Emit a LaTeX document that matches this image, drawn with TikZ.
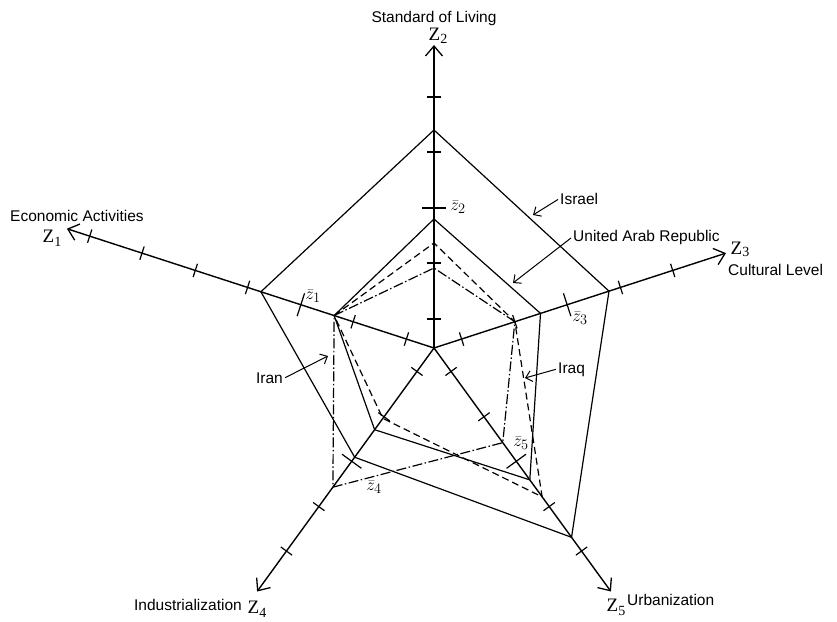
\documentclass[tikz,border=0pt]{standalone}
\usepackage{fontspec}
\setmainfont{Liberation Sans}
\newfontfamily\zfont{Liberation Serif}
\usetikzlibrary{arrows.meta,calc}

\begin{document}
\begin{tikzpicture}[x=1pt,y=1pt,
  axisline/.style={line width=1.4pt,-{Straight Barb[length=10pt,width=17pt,line width=1.3pt]}},
  tickmark/.style={line width=1.2pt},
  israelline/.style={line width=1.2pt,line join=miter},
  uarline/.style={line width=1.2pt,line join=miter},
  iraqline/.style={line width=1.2pt,dash pattern=on 7pt off 4pt},
  iranline/.style={line width=1.2pt,dash pattern=on 10pt off 2.5pt on 1.5pt off 2.5pt},
  pointer/.style={line width=1pt,-{Straight Barb[length=6pt,width=11pt,line width=1pt]}},
  caption/.style={font=\fontsize{15.5}{15.5}\selectfont,inner sep=0pt},
  axisname/.style={font=\zfont\fontsize{19}{19}\selectfont,inner sep=0pt},
  meanlabel/.style={font=\fontsize{19}{19}\selectfont,inner sep=0pt}
]
\useasboundingbox (-434,-273) rectangle (403,348);
\coordinate (O) at (0,0);

% axis end points
\coordinate (T1) at (162:386);
\coordinate (T2) at (90:303);
\coordinate (T3) at (18:307);
\coordinate (T4) at (234:301);
\coordinate (T5) at (306:301);

\foreach \n in {1,...,5} \draw[axisline] (O) -- (T\n);

% scale marks; the long one marks the mean
\foreach \a in {162,90,18,234,306} {
  \foreach \d in {29,85,196,251} \draw[tickmark,rotate=\a] (\d,-7) -- (\d,7);
  \draw[tickmark,rotate=\a] (140,-12) -- (140,12);
}
\foreach \d in {307,362} \draw[tickmark,rotate=162] (\d,-7) -- (\d,7);

% country profiles
\coordinate (I1) at (162:182);
\coordinate (I2) at (90:218);
\coordinate (I3) at (18:184);
\coordinate (I4) at (234:135);
\coordinate (I5) at (306:234);
\draw[israelline] (I1) -- (I2) -- (I3) -- (I5) -- (I4) -- cycle;

\coordinate (U1) at (162:105);
\coordinate (U2) at (90:129);
\coordinate (U3) at (18:112);
\coordinate (U4) at (234:101);
\coordinate (U5) at (306:163);
\draw[uarline] (U1) -- (U2) -- (U3) -- (U5) -- (U4) -- cycle;

\coordinate (Q1) at (162:105);
\coordinate (Q2) at (90:105);
\coordinate (Q3) at (18:85);
\coordinate (Q4) at (234:87);
\coordinate (Q5) at (306:184);
\draw[iraqline] (Q1) -- (Q2) -- (Q3) -- (Q5) -- (Q4) -- cycle;

\coordinate (N1) at (162:105);
\coordinate (N2) at (90:80);
\coordinate (N3) at (18:85);
\coordinate (N4) at (234:172);
\coordinate (N5) at (306:117);
\draw[iranline] (N1) -- (N2) -- (N3) -- (N5) -- (N4) -- cycle;

% axis names
\node[axisname] (z1) at (-382,110) {Z\raisebox{-0.45ex}{\fontsize{14}{14}\selectfont 1}};
\node[axisname] (z2) at (4,312) {Z\raisebox{-0.3ex}{\fontsize{14}{14}\selectfont 2}};
\node[axisname] (z3) at (306,99) {Z\raisebox{-0.2ex}{\fontsize{14}{14}\selectfont 3}};
\node[axisname] (z4) at (-177,-261) {Z\raisebox{-0.45ex}{\fontsize{14}{14}\selectfont 4}};
\node[axisname] (z5) at (182,-259) {Z\raisebox{-0.45ex}{\fontsize{14}{14}\selectfont 5}};

\node[caption,anchor=base] (living) at (0,325) {Standard of Living};
\node[caption,anchor=base west] (economic) at (-424,126) {Economic Activities};
\node[caption,anchor=base west] (cultural) at (294,73) {Cultural Level};
\node[caption,anchor=base east] (industrial) at (-192,-262) {Industrialization};
\node[caption,anchor=base west] (urban) at (193,-257) {Urbanization};

% means
\node[meanlabel] (m1) at (-121,52) {$\bar z_1$};
\node[meanlabel] (m2) at (24,141) {$\bar z_2$};
\node[meanlabel] (m3) at (146,30) {$\bar z_3$};
\node[meanlabel] (m4) at (-60,-139) {$\bar z_4$};
\node[meanlabel] (m5) at (87,-95) {$\bar z_5$};

% country names with pointers
\node[caption,anchor=base west] (israel) at (126,143) {Israel};
\node[caption,anchor=base west] (uar) at (139,106) {United Arab Republic};
\node[caption,anchor=base west] (iraq) at (124,-25) {Iraq};
\node[caption,anchor=base east] (iran) at (-151,-35) {Iran};

\coordinate (pIsrael) at (99,133);
\coordinate (pUar) at (79,65);
\coordinate (pIraq) at (91,-30);
\coordinate (pIran) at (-106,-8);

\draw[pointer] ([xshift=-2pt]israel.west) -- (pIsrael);
\draw[pointer] ([xshift=-2pt]uar.west) -- (pUar);
\draw[pointer] ([xshift=-2pt]iraq.west) -- (pIraq);
\draw[pointer] ([xshift=2pt]iran.east) -- (pIran);
\end{tikzpicture}
\end{document}
